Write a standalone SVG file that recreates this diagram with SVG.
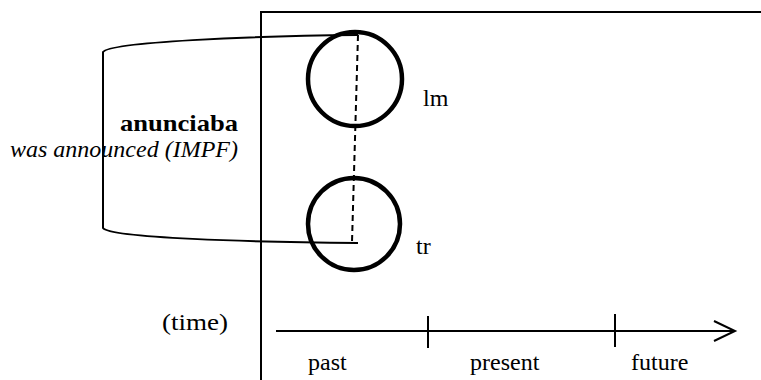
<svg xmlns="http://www.w3.org/2000/svg" width="761" height="380" viewBox="0 0 761 380">
  <rect width="761" height="380" fill="#fff"/>

  <!-- frame -->
  <g id="frame" fill="none" stroke="#000" stroke-width="2">
    <path d="M261,380 V12 H761"/>
  </g>

  <!-- landmark and trajector rings -->
  <g id="lm">
    <circle cx="355" cy="79" r="47" fill="none" stroke="#000" stroke-width="4.5"/>
  </g>
  <g id="tr">
    <circle cx="354" cy="224" r="46" fill="none" stroke="#000" stroke-width="4.5"/>
  </g>

  <g id="connectors" fill="none" stroke="#000" stroke-width="2">
    <line x1="358" y1="35" x2="352" y2="242" stroke-dasharray="6,4"/>
    <path d="M358,35 C250,36 110,42 103,52 V228 C110,238 250,242 358,243"/>
  </g>

  <g id="axis" fill="none" stroke="#000" stroke-width="2">
    <path d="M276,331 H734"/>
    <path d="M714,321 L735,331 L714,341"/>
    <path d="M428,316 V348"/>
    <path d="M615,314 V347"/>
  </g>

  <!-- labels -->
  <text x="423" y="106" font-family="Liberation Serif" font-size="24">lm</text>
  <text x="416" y="254" font-family="Liberation Serif" font-size="24">tr</text>
  <text x="120" y="131" font-family="Liberation Serif" font-size="24" font-weight="bold" textLength="118" lengthAdjust="spacingAndGlyphs">anunciaba</text>
  <text x="10" y="157" font-family="Liberation Serif" font-size="24" font-style="italic">was announced (IMPF)</text>
  <text x="162" y="330" font-family="Liberation Serif" font-size="24" textLength="66" lengthAdjust="spacingAndGlyphs">(time)</text>
  <text x="308" y="370" font-family="Liberation Serif" font-size="24">past</text>
  <text x="470" y="370" font-family="Liberation Serif" font-size="24">present</text>
  <text x="631" y="370" font-family="Liberation Serif" font-size="24">future</text>
</svg>
